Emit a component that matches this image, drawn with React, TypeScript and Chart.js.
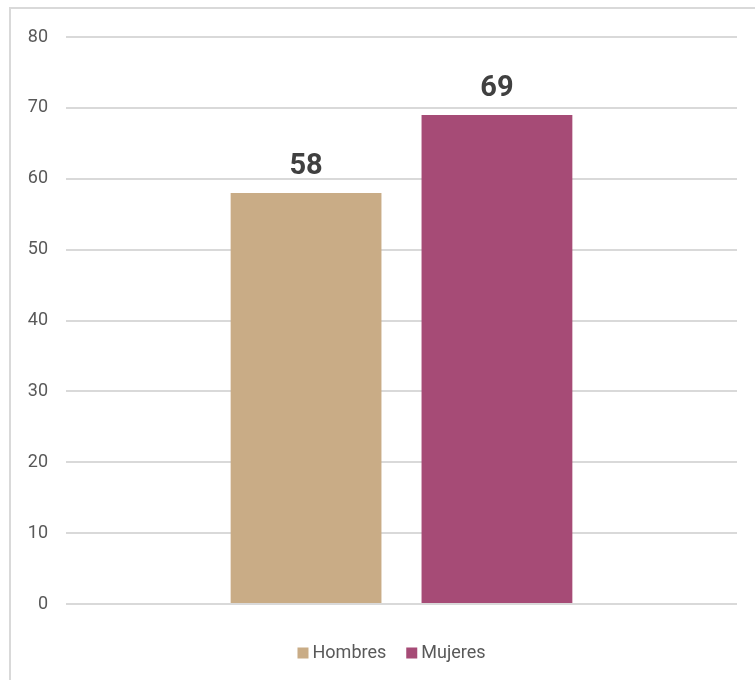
import React, { useEffect, useRef } from "react";
import { Chart, registerables } from "chart.js";

Chart.register(...registerables);

const categories = [""];
const seriesNames = ["Hombres", "Mujeres"];
const hombresValues = [58];
const mujeresValues = [69];
const seriesColors = ["#C9AC86", "#A64B76"];
const yTicks = [0, 10, 20, 30, 40, 50, 60, 70, 80];

const valueLabels = {
  id: "valueLabels",
  afterDatasetsDraw(chart: any) {
    const ctx = chart.ctx;
    ctx.save();
    ctx.font = "bold 29px Roboto";
    ctx.fillStyle = "#404040";
    ctx.textAlign = "center";
    ctx.textBaseline = "alphabetic";
    chart.data.datasets.forEach((ds: any, i: number) => {
      const meta = chart.getDatasetMeta(i);
      meta.data.forEach((bar: any, j: number) => {
        ctx.fillText(String(ds.data[j]), bar.x, bar.y - 19);
      });
    });
    ctx.restore();
  },
};

const bottomLegend = {
  id: "bottomLegend",
  afterDraw(chart: any) {
    const ctx = chart.ctx;
    const box = 11;
    const gap = 4;
    const spacing = 20;
    ctx.save();
    ctx.font = "18px Roboto";
    const items = chart.data.datasets.map((ds: any) => ({
      text: ds.label,
      color: ds.backgroundColor,
      w: ctx.measureText(ds.label).width,
    }));
    const total =
      items.reduce((s: number, it: any) => s + box + gap + it.w, 0) + spacing * (items.length - 1);
    const area = chart.chartArea;
    const cy = area.bottom + 49;
    let x = (area.left + area.right) / 2 - 10 - total / 2;
    ctx.textBaseline = "middle";
    ctx.textAlign = "left";
    items.forEach((it: any) => {
      ctx.fillStyle = it.color;
      ctx.fillRect(x, cy - box / 2, box, box);
      ctx.fillStyle = "#595959";
      ctx.fillText(it.text, x + box + gap, cy);
      x += box + gap + it.w + spacing;
    });
    ctx.restore();
  },
};

export default function App() {
  const ref = useRef<HTMLCanvasElement | null>(null);
  useEffect(() => {
    if (!ref.current) return;
    const chart = new Chart(ref.current, {
      type: "bar",
      data: {
        labels: categories,
        datasets: [
          {
            label: seriesNames[0],
            data: hombresValues,
            backgroundColor: seriesColors[0],
            categoryPercentage: 0.569,
            barPercentage: 0.79,
          },
          {
            label: seriesNames[1],
            data: mujeresValues,
            backgroundColor: seriesColors[1],
            categoryPercentage: 0.569,
            barPercentage: 0.79,
          },
        ],
      },
      options: {
        animation: false,
        responsive: false,
        maintainAspectRatio: false,
        layout: { padding: { left: 0, right: 18, top: 37, bottom: 76 } },
        plugins: {
          tooltip: { enabled: false },
          legend: { display: false },
        },
        scales: {
          x: {
            display: false,
          },
          y: {
            min: 0,
            max: 80,
            afterBuildTicks: (s: any) => {
              s.ticks = yTicks.map((v) => ({ value: v }));
            },
            grid: { color: "#d9d9d9", lineWidth: 2, drawTicks: false },
            border: { display: false },
            ticks: {
              padding: 18,
              color: "#595959",
              font: { family: "Roboto", size: 18 },
            },
            afterFit: (s: any) => {
              s.width = 66;
            },
          },
        },
      },
      plugins: [valueLabels, bottomLegend],
    });
    return () => chart.destroy();
  }, []);
  return (
    <div style={{ position: "absolute", left: 0, top: 0, width: 755, height: 680, overflow: "hidden", background: "#fff" }}>
      <div
        style={{
          position: "absolute",
          left: 9,
          top: 7,
          width: 800,
          height: 720,
          border: "2px solid #d9d9d9",
          boxSizing: "border-box",
        }}
      />
      <canvas ref={ref} width={755} height={680} style={{ position: "absolute", left: 0, top: 0 }} />
    </div>
  );
}
